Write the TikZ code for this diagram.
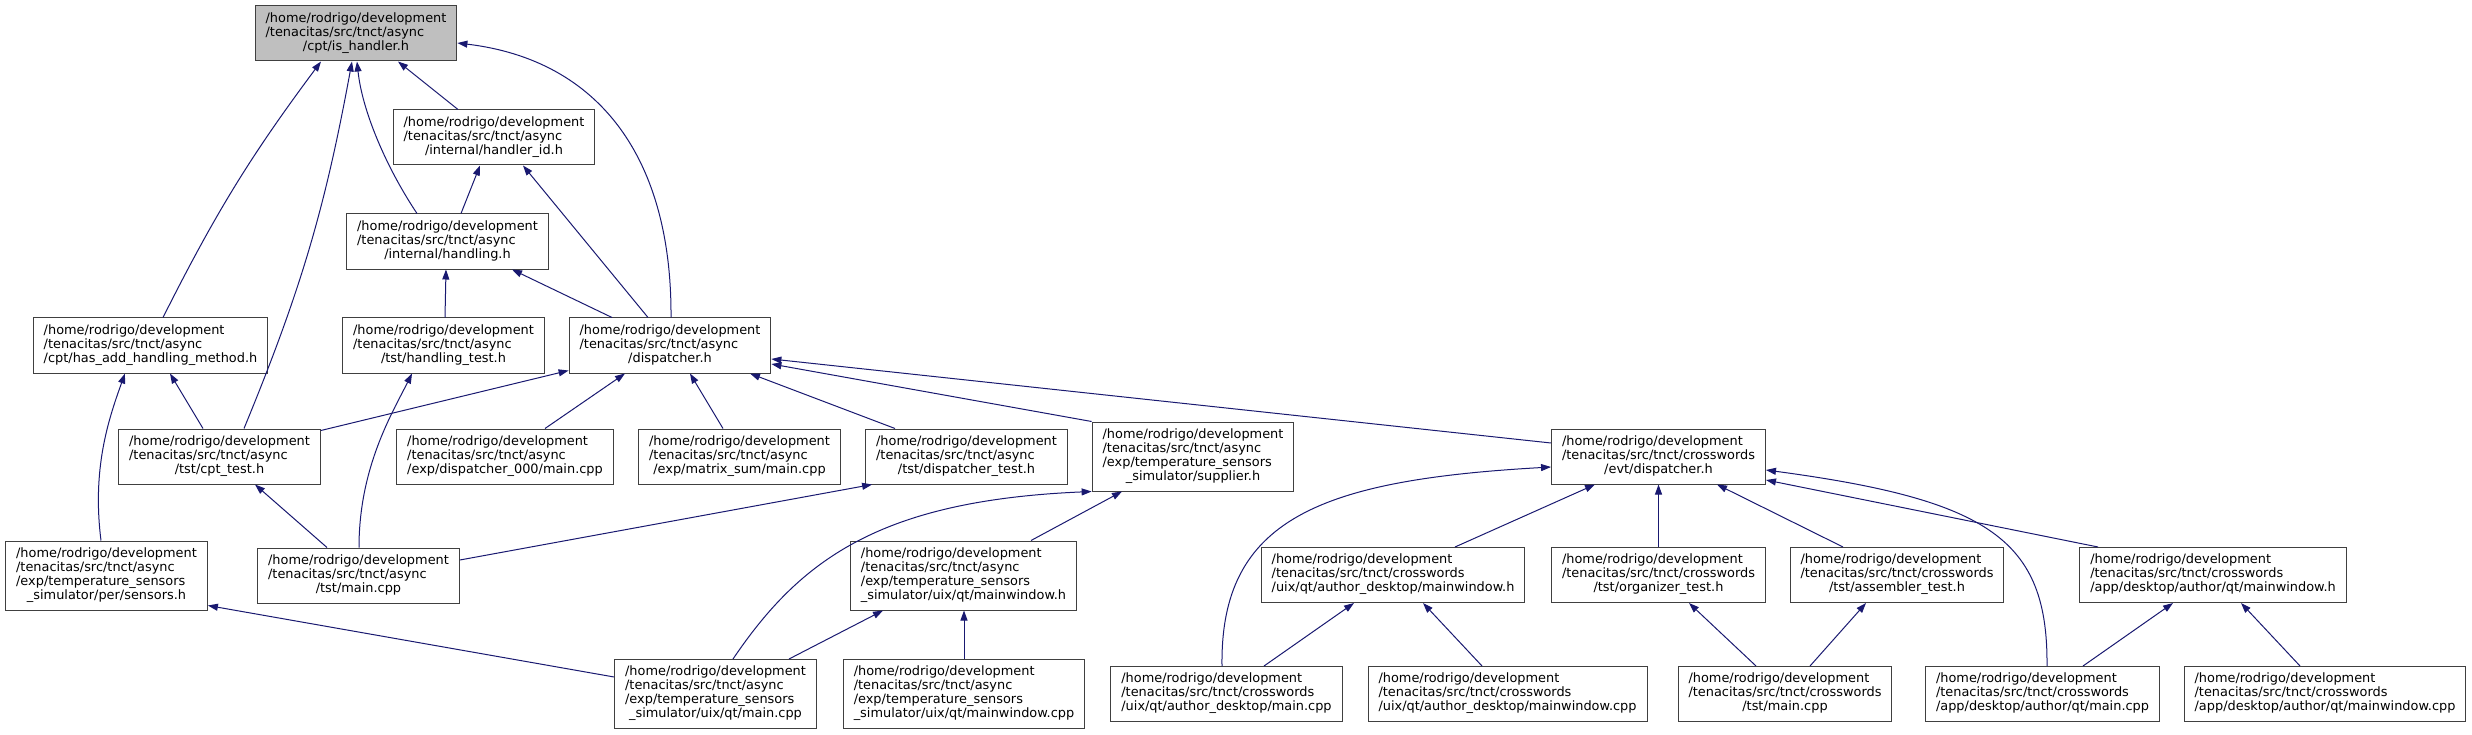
\documentclass[tikz,border=0pt]{standalone}
\usepackage{fontspec}
\setmainfont{DejaVu Sans}
\usetikzlibrary{arrows.meta}
\definecolor{depblue}{HTML}{191970}
\definecolor{rootgray}{HTML}{BFBFBF}
% label: left-aligned lines, last line centred
\newcommand{\fpath}[2]{\begin{tabular}{@{}l@{}}#1\\\multicolumn{1}{@{}c@{}}{#2}\end{tabular}}
\newcommand{\asy}{/home/rodrigo/development\\/tenacitas/src/tnct/async}
\newcommand{\xw}{/home/rodrigo/development\\/tenacitas/src/tnct/crosswords}

\begin{document}
\begin{tikzpicture}[x=1pt, y=1pt,
    file/.style={draw=black!75, line width=1pt, fill=white, inner xsep=10.5pt, inner ysep=6.5pt, font=\fontsize{12.9}{14}\selectfont},
    dep/.style={-{Triangle[length=10pt,width=7pt]}, depblue, line width=1pt}
]
    \useasboundingbox (0,0) rectangle (2472,-735);

    % Root header
    \node[file, fill=rootgray] (ishandler) at (356,-33.5) {\fpath{\asy}{/cpt/is\_handler.h}};

    % async internals
    \node[file] (handlerid) at (494,-137.5) {\fpath{\asy}{/internal/handler\_id.h}};
    \node[file] (handling) at (447.5,-241.5) {\fpath{\asy}{/internal/handling.h}};
    \node[file] (hasadd) at (150.5,-345.5) {\fpath{\asy}{/cpt/has\_add\_handling\_method.h}};
    \node[file] (handlingtest) at (443.5,-345.5) {\fpath{\asy}{/tst/handling\_test.h}};
    \node[file] (dispatcher) at (670,-345.5) {\fpath{\asy}{/dispatcher.h}};

    % Row of includers of dispatcher.h
    \node[file] (cpttest) at (219.5,-456.5) {\fpath{\asy}{/tst/cpt\_test.h}};
    \node[file] (disp000) at (505,-456.5) {\fpath{\asy}{/exp/dispatcher\_000/main.cpp}};
    \node[file] (matrixsum) at (739.5,-456.5) {\fpath{\asy}{/exp/matrix\_sum/main.cpp}};
    \node[file] (disptest) at (966.5,-456.5) {\fpath{\asy}{/tst/dispatcher\_test.h}};
    \node[file] (supplier) at (1193,-456.5) {\fpath{\asy\\/exp/temperature\_sensors}{\_simulator/supplier.h}};
    \node[file] (evtdisp) at (1658.5,-456.5) {\fpath{\xw}{/evt/dispatcher.h}};

    % Second row
    \node[file] (sensors) at (106.5,-575.5) {\fpath{\asy\\/exp/temperature\_sensors}{\_simulator/per/sensors.h}};
    \node[file] (tstmain) at (358.5,-575.5) {\fpath{\asy}{/tst/main.cpp}};
    \node[file] (tempmw) at (963.5,-575.5) {\fpath{\asy\\/exp/temperature\_sensors}{\_simulator/uix/qt/mainwindow.h}};
    \node[file] (admw) at (1393,-575) {\fpath{\xw}{/uix/qt/author\_desktop/mainwindow.h}};
    \node[file] (orgtest) at (1658.5,-575) {\fpath{\xw}{/tst/organizer\_test.h}};
    \node[file] (asmtest) at (1897,-575) {\fpath{\xw}{/tst/assembler\_test.h}};
    \node[file] (appmw) at (2213,-575) {\fpath{\xw}{/app/desktop/author/qt/mainwindow.h}};

    % Bottom row
    \node[file] (tempmain) at (715.5,-694) {\fpath{\asy\\/exp/temperature\_sensors}{\_simulator/uix/qt/main.cpp}};
    \node[file] (tempmwcpp) at (964,-694) {\fpath{\asy\\/exp/temperature\_sensors}{\_simulator/uix/qt/mainwindow.cpp}};
    \node[file] (admain) at (1226.5,-694) {\fpath{\xw}{/uix/qt/author\_desktop/main.cpp}};
    \node[file] (admwcpp) at (1507.5,-694) {\fpath{\xw}{/uix/qt/author\_desktop/mainwindow.cpp}};
    \node[file] (xwtstmain) at (1785,-694) {\fpath{\xw}{/tst/main.cpp}};
    \node[file] (appmain) at (2042.5,-694) {\fpath{\xw}{/app/desktop/author/qt/main.cpp}};
    \node[file] (appmwcpp) at (2325,-694) {\fpath{\xw}{/app/desktop/author/qt/mainwindow.cpp}};

    % into is_handler.h
    \draw[dep] ([xshift=12.5pt]hasadd.north) to[bend left=5] ([xshift=-35pt]ishandler.south);
    \draw[dep] ([xshift=24.5pt]cpttest.north) to[bend right=6] ([xshift=-4pt]ishandler.south);
    \draw[dep] ([xshift=-30.5pt]handling.north) .. controls +(-32,48) and +(5,-48) .. ([xshift=1pt]ishandler.south);
    \draw[dep] ([xshift=-36pt]handlerid.north) -- ([xshift=42pt]ishandler.south);
    \draw[dep] ([xshift=1pt]dispatcher.north) .. controls +(1,158) and +(143,-17) .. ([yshift=-9.5pt]ishandler.east);

    % into handler_id.h and handling.h
    \draw[dep] ([xshift=13.5pt]handling.north) -- ([xshift=-14pt]handlerid.south);
    \draw[dep] ([xshift=-22pt]dispatcher.north) -- ([xshift=29pt]handlerid.south);
    \draw[dep] ([xshift=1.5pt]handlingtest.north) -- ([xshift=-1.5pt]handling.south);
    \draw[dep] ([xshift=-58pt]dispatcher.north) -- ([xshift=64.5pt]handling.south);

    % into has_add_handling_method.h
    \draw[dep] ([xshift=-16.5pt]cpttest.north) -- ([xshift=19.5pt]hasadd.south);
    \draw[dep] ([xshift=-5.5pt]sensors.north) .. controls +(-9,71) and +(-17,-47) .. ([xshift=-25.5pt]hasadd.south);

    % into dispatcher.h
    \draw[dep] ([yshift=-2pt]cpttest.north east) -- ([yshift=3pt]dispatcher.south west);
    \draw[dep] ([xshift=40pt]disp000.north) -- ([xshift=-45pt]dispatcher.south);
    \draw[dep] ([xshift=-16.5pt]matrixsum.north) -- ([xshift=20pt]dispatcher.south);
    \draw[dep] ([xshift=-71.5pt]disptest.north) -- ([xshift=80pt]dispatcher.south);
    \draw[dep] (supplier.north west) -- ([yshift=-18.5pt]dispatcher.east);
    \draw[dep] ([yshift=13.5pt]evtdisp.west) -- ([yshift=-13.5pt]dispatcher.east);

    % tst/main.cpp
    \draw[dep] ([xshift=0.5pt]tstmain.north) .. controls +(0,80) and +(-20,-40) .. ([xshift=-31.5pt]handlingtest.south);
    \draw[dep] ([xshift=-31.5pt]tstmain.north) -- ([xshift=35.5pt]cpttest.south);
    \draw[dep] ([yshift=15.5pt]tstmain.east) -- ([xshift=7pt]disptest.south west);

    % temperature sensors simulator
    \draw[dep] ([xshift=17.5pt]tempmain.north) .. controls +(67,99) and +(-212,-9) .. (supplier.south west);
    \draw[dep] ([xshift=67.5pt]tempmw.north) -- ([xshift=-71pt]supplier.south);
    \draw[dep] ([xshift=73.5pt]tempmain.north) -- ([xshift=-80.5pt]tempmw.south);
    \draw[dep] (tempmwcpp.north) -- ([xshift=0.5pt]tempmw.south);
    \draw[dep] ([yshift=17pt]tempmain.west) -- ([yshift=5pt]sensors.south east);

    % into evt/dispatcher.h
    \draw[dep] ([xshift=-4.5pt]admain.north) .. controls +(-2,147) and +(-231,-13) .. ([yshift=-10.5pt]evtdisp.west);
    \draw[dep] ([xshift=62pt]admw.north) -- ([xshift=-63.5pt]evtdisp.south);
    \draw[dep] (orgtest.north) -- (evtdisp.south);
    \draw[dep] ([xshift=-54pt]asmtest.north) -- ([xshift=58.5pt]evtdisp.south);
    \draw[dep] ([xshift=4.5pt]appmain.north) .. controls +(1,126) and +(224,-30) .. ([yshift=-13.5pt]evtdisp.east);
    \draw[dep] ([xshift=-115pt]appmw.north) -- ([yshift=-23.5pt]evtdisp.east);

    % crosswords leaves
    \draw[dep] ([xshift=37.5pt]admain.north) -- ([xshift=-39pt]admw.south);
    \draw[dep] ([xshift=-25.5pt]admwcpp.north) -- ([xshift=30pt]admw.south);
    \draw[dep] ([xshift=-29pt]xwtstmain.north) -- ([xshift=30.5pt]orgtest.south);
    \draw[dep] ([xshift=25pt]xwtstmain.north) -- ([xshift=-31pt]asmtest.south);
    \draw[dep] ([xshift=40.5pt]appmain.north) -- ([xshift=-40pt]appmw.south);
    \draw[dep] ([xshift=-25pt]appmwcpp.north) -- ([xshift=28pt]appmw.south);
\end{tikzpicture}
\end{document}
